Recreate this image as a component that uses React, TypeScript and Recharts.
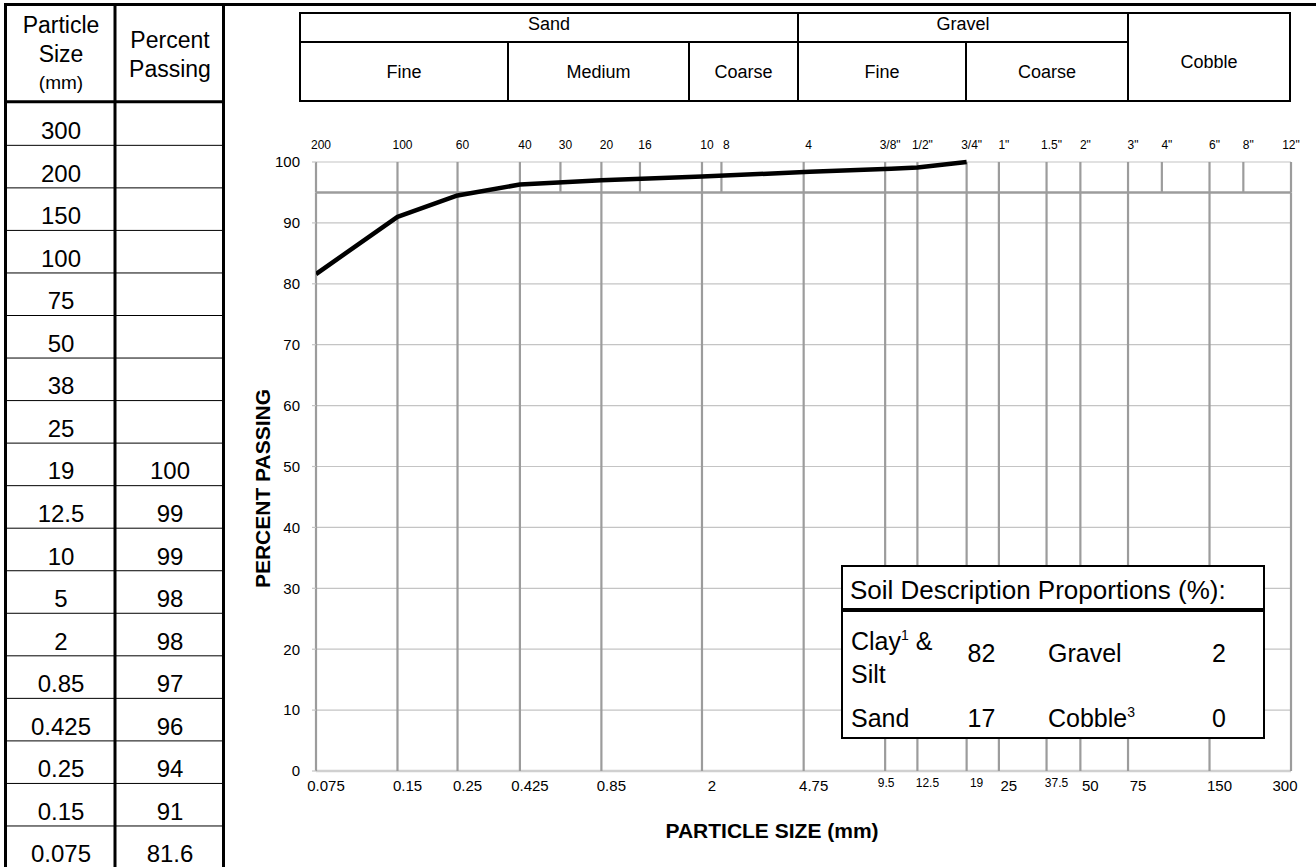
import React from 'react';
import { LineChart, Line, XAxis, YAxis, CartesianGrid, ReferenceLine } from 'recharts';

const FONT = '"Liberation Sans", Arial, Helvetica, sans-serif';

// ---- plotted gradation curve ----
const particleSizes = [0.075, 0.15, 0.25, 0.425, 0.85, 2, 5, 10, 12.5, 19];
const percentPassing = [81.6, 91.0, 94.5, 96.3, 97.0, 97.6, 98.4, 98.9, 99.1, 100];

// ---- left table ----
const tableSizeLabels = ['300', '200', '150', '100', '75', '50', '38', '25', '19', '12.5', '10', '5', '2', '0.85', '0.425', '0.25', '0.15', '0.075'];
const tablePassingLabels = ['', '', '', '', '', '', '', '', '100', '99', '99', '98', '98', '97', '96', '94', '91', '81.6'];

// ---- bottom axis (mm) ----
const mmTicks = [0.075, 0.15, 0.25, 0.425, 0.85, 2, 4.75, 9.5, 12.5, 19, 25, 37.5, 50, 75, 150, 300];
const mmTickLabels = ['0.075', '0.15', '0.25', '0.425', '0.85', '2', '4.75', '9.5', '12.5', '19', '25', '37.5', '50', '75', '150', '300'];

// ---- top axis (sieve designations) ----
const sieveTicks = [0.075, 0.15, 0.25, 0.425, 0.6, 0.85, 1.18, 2, 2.36, 4.75, 9.5, 12.5, 19, 25, 37.5, 50, 75, 100, 150, 200, 300];
const sieveLabels = ['200', '100', '60', '40', '30', '20', '16', '10', '8', '4', '3/8"', '1/2"', '3/4"', '1"', '1.5"', '2"', '3"', '4"', '6"', '8"', '12"'];

// ---- y axis ----
const yTicks = [0, 10, 20, 30, 40, 50, 60, 70, 80, 90, 100];
const bandFloor = 95;

// ---- classification header ----
const groupNames = ['Sand', 'Gravel', 'Cobble'];
const subNames = ['Fine', 'Medium', 'Coarse', 'Fine', 'Coarse'];

// ---- soil proportions ----
const proportionTitle = 'Soil Description Proportions (%):';
const proportionNames = ['Clay', 'Sand', 'Gravel', 'Cobble'];
const proportionValues = [82, 17, 2, 0];

const data = particleSizes.map((s, i) => ({ size: s, passing: percentPassing[i] }));

const smallBottom = new Set([9.5, 12.5, 19, 37.5]);

function BottomTick(props: any) {
  const { x, y, payload } = props;
  const v = payload.value;
  const idx = mmTicks.indexOf(v);
  const small = smallBottom.has(v);
  let dx = 10;
  if (v === 9.5) dx = 1;
  if (v === 300) dx = -6;
  return (
    <text x={x + dx} y={y + (small ? 16 : 20)} textAnchor="middle" fontSize={small ? 12 : 15} fontFamily={FONT} fill="#000">
      {mmTickLabels[idx]}
    </text>
  );
}

function TopTick(props: any) {
  const { x, y, payload } = props;
  const v = payload.value;
  const idx = sieveTicks.indexOf(v);
  const dx = v === 300 ? 0 : 5;
  return (
    <text x={x + dx} y={y - 13} textAnchor="middle" fontSize={12} fontFamily={FONT} fill="#000">
      {sieveLabels[idx]}
    </text>
  );
}

function Overlay() {
  const rowTop0 = 102.8;
  const rowH = 42.54;
  const tableText = { fontFamily: FONT, fontSize: 24, fill: '#000', textAnchor: 'middle' as const };
  const hdr = { fontFamily: FONT, fontSize: 18, fill: '#000', textAnchor: 'middle' as const };
  const ins = { fontFamily: FONT, fontSize: 25, fill: '#000' };
  return (
    <svg width={1316} height={867} style={{ position: 'absolute', left: 0, top: 0, pointerEvents: 'none' }}>
      {/* top rule */}
      <line x1={4} x2={1316} y1={4.5} y2={4.5} stroke="#000" strokeWidth={3} />
      {/* left table */}
      <line x1={5.5} x2={5.5} y1={3} y2={867} stroke="#000" strokeWidth={3} />
      <line x1={115} x2={115} y1={3} y2={867} stroke="#000" strokeWidth={3} />
      <line x1={223.5} x2={223.5} y1={3} y2={867} stroke="#000" strokeWidth={3} />
      <line x1={4} x2={225} y1={101.7} y2={101.7} stroke="#000" strokeWidth={3} />
      {tableSizeLabels.slice(1).map((_, k) => (
        <line key={'rl' + k} x1={5} x2={224} y1={rowTop0 + (k + 1) * rowH} y2={rowTop0 + (k + 1) * rowH} stroke="#000" strokeWidth={1} />
      ))}
      <text x={61} y={32.5} {...tableText} fontSize={23}>Particle</text>
      <text x={61} y={61.5} {...tableText} fontSize={23}>Size</text>
      <text x={61} y={89} {...tableText} fontSize={19}>(mm)</text>
      <text x={170} y={48} {...tableText} fontSize={23}>Percent</text>
      <text x={170} y={77} {...tableText} fontSize={23}>Passing</text>
      {tableSizeLabels.map((s, i) => (
        <text key={'ts' + i} x={61} y={rowTop0 + i * rowH + 36.3} {...tableText}>{s}</text>
      ))}
      {tablePassingLabels.map((s, i) => (
        <text key={'tp' + i} x={170} y={rowTop0 + i * rowH + 36.3} {...tableText}>{s}</text>
      ))}

      {/* classification header */}
      <rect x={300} y={13} width={990} height={88} fill="none" stroke="#000" strokeWidth={2} />
      <line x1={300} x2={1128} y1={42} y2={42} stroke="#000" strokeWidth={2} />
      <line x1={798} x2={798} y1={13} y2={101} stroke="#000" strokeWidth={2} />
      <line x1={1128} x2={1128} y1={13} y2={101} stroke="#000" strokeWidth={2} />
      <line x1={508} x2={508} y1={42} y2={101} stroke="#000" strokeWidth={2} />
      <line x1={689} x2={689} y1={42} y2={101} stroke="#000" strokeWidth={2} />
      <line x1={966} x2={966} y1={42} y2={101} stroke="#000" strokeWidth={2} />
      <text x={549} y={30} {...hdr}>{groupNames[0]}</text>
      <text x={963} y={30} {...hdr}>{groupNames[1]}</text>
      <text x={1209} y={68} {...hdr}>{groupNames[2]}</text>
      <text x={404} y={78} {...hdr}>{subNames[0]}</text>
      <text x={598.5} y={78} {...hdr}>{subNames[1]}</text>
      <text x={743.5} y={78} {...hdr}>{subNames[2]}</text>
      <text x={882} y={78} {...hdr}>{subNames[3]}</text>
      <text x={1047} y={78} {...hdr}>{subNames[4]}</text>

      {/* soil proportions box */}
      <rect x={842} y={566} width={422} height={172} fill="#fff" stroke="#000" strokeWidth={2} />
      <line x1={843} x2={1263} y1={610} y2={610} stroke="#000" strokeWidth={4} />
      <text x={850} y={599} {...ins} fontSize={26}>{proportionTitle}</text>
      <text x={851} y={650} {...ins}>
        {proportionNames[0]}
        <tspan dy={-10} fontSize={14}>1</tspan>
        <tspan dy={10}> &amp;</tspan>
      </text>
      <text x={851} y={683} {...ins}>Silt</text>
      <text x={981.5} y={662} {...ins} textAnchor="middle">{proportionValues[0]}</text>
      <text x={1048} y={662} {...ins}>{proportionNames[2]}</text>
      <text x={1219} y={662} {...ins} textAnchor="middle">{proportionValues[2]}</text>
      <text x={851} y={727} {...ins}>{proportionNames[1]}</text>
      <text x={981.5} y={727} {...ins} textAnchor="middle">{proportionValues[1]}</text>
      <text x={1048} y={727} {...ins}>
        {proportionNames[3]}
        <tspan dy={-10} fontSize={14}>3</tspan>
      </text>
      <text x={1219} y={727} {...ins} textAnchor="middle">{proportionValues[3]}</text>
    </svg>
  );
}

export default function App() {
  return (
    <div style={{ position: 'relative', width: 1316, height: 867, background: '#fff', overflow: 'hidden' }}>
      <style>{'body{margin:0;background:#fff;}'}</style>
      <LineChart width={1316} height={867} data={data} margin={{ top: 142, right: 19, bottom: 56, left: 256 }}>
        <CartesianGrid vertical={false} stroke="#c4c4c4" strokeWidth={1.2} />
        <XAxis
          dataKey="size"
          type="number"
          scale="log"
          domain={[0.075, 300]}
          allowDataOverflow
          ticks={mmTicks}
          interval={0}
          height={40}
          axisLine={false}
          tickLine={false}
          tickSize={0}
          tickMargin={0}
          tick={<BottomTick />}
          label={(p: any) => {
            const vb = p.viewBox;
            return (
              <text x={vb.x + vb.width / 2 - 31.5} y={vb.y + 67} textAnchor="middle" fontFamily={FONT} fontSize={21} fontWeight="bold" fill="#000">
                PARTICLE SIZE (mm)
              </text>
            );
          }}
        />
        <XAxis
          xAxisId="top"
          orientation="top"
          dataKey="size"
          type="number"
          scale="log"
          domain={[0.075, 300]}
          allowDataOverflow
          ticks={sieveTicks}
          interval={0}
          height={20}
          axisLine={false}
          tickLine={false}
          tickSize={0}
          tickMargin={0}
          tick={<TopTick />}
        />
        <YAxis
          type="number"
          domain={[0, 100]}
          ticks={yTicks}
          interval={0}
          width={60}
          axisLine={false}
          tickSize={4}
          tickMargin={12}
          tickLine={{ stroke: '#c4c4c4', strokeWidth: 1.2 }}
          tick={{ fontSize: 15, fill: '#000', fontFamily: FONT }}
          label={(p: any) => {
            const vb = p.viewBox;
            const cx = vb.x + 14;
            const cy = vb.y + vb.height / 2 + 22;
            return (
              <text x={cx} y={cy} transform={`rotate(-90, ${cx}, ${cy})`} textAnchor="middle" fontFamily={FONT} fontSize={21} fontWeight="bold" fill="#000">
                PERCENT PASSING
              </text>
            );
          }}
        />
        <YAxis
          yAxisId="r"
          orientation="right"
          type="number"
          domain={[0, 100]}
          ticks={yTicks}
          interval={0}
          width={6}
          axisLine={false}
          tickSize={6}
          tick={false}
          tickLine={{ stroke: '#c4c4c4', strokeWidth: 1.2 }}
        />
        <ReferenceLine y={0} stroke="#d0d0d0" strokeWidth={2.5} ifOverflow="visible" />
        {mmTicks.map((v) => (
          <ReferenceLine
            key={'v' + v}
            segment={[{ x: v, y: 0 }, { x: v, y: bandFloor }]}
            stroke="#9c9c9c"
            strokeWidth={2.2}
            ifOverflow="visible"
          />
        ))}
        {sieveTicks.map((v) => (
          <ReferenceLine
            key={'s' + v}
            segment={[{ x: v, y: bandFloor }, { x: v, y: 100 }]}
            stroke="#9c9c9c"
            strokeWidth={2.2}
            ifOverflow="visible"
          />
        ))}
        <ReferenceLine y={bandFloor} stroke="#9c9c9c" strokeWidth={2.5} ifOverflow="visible" />
        <Line
          dataKey="passing"
          type="linear"
          stroke="#000"
          strokeWidth={4.5}
          dot={false}
          activeDot={false}
          strokeLinejoin="round"
          isAnimationActive={false}
        />
      </LineChart>
      <Overlay />
    </div>
  );
}
